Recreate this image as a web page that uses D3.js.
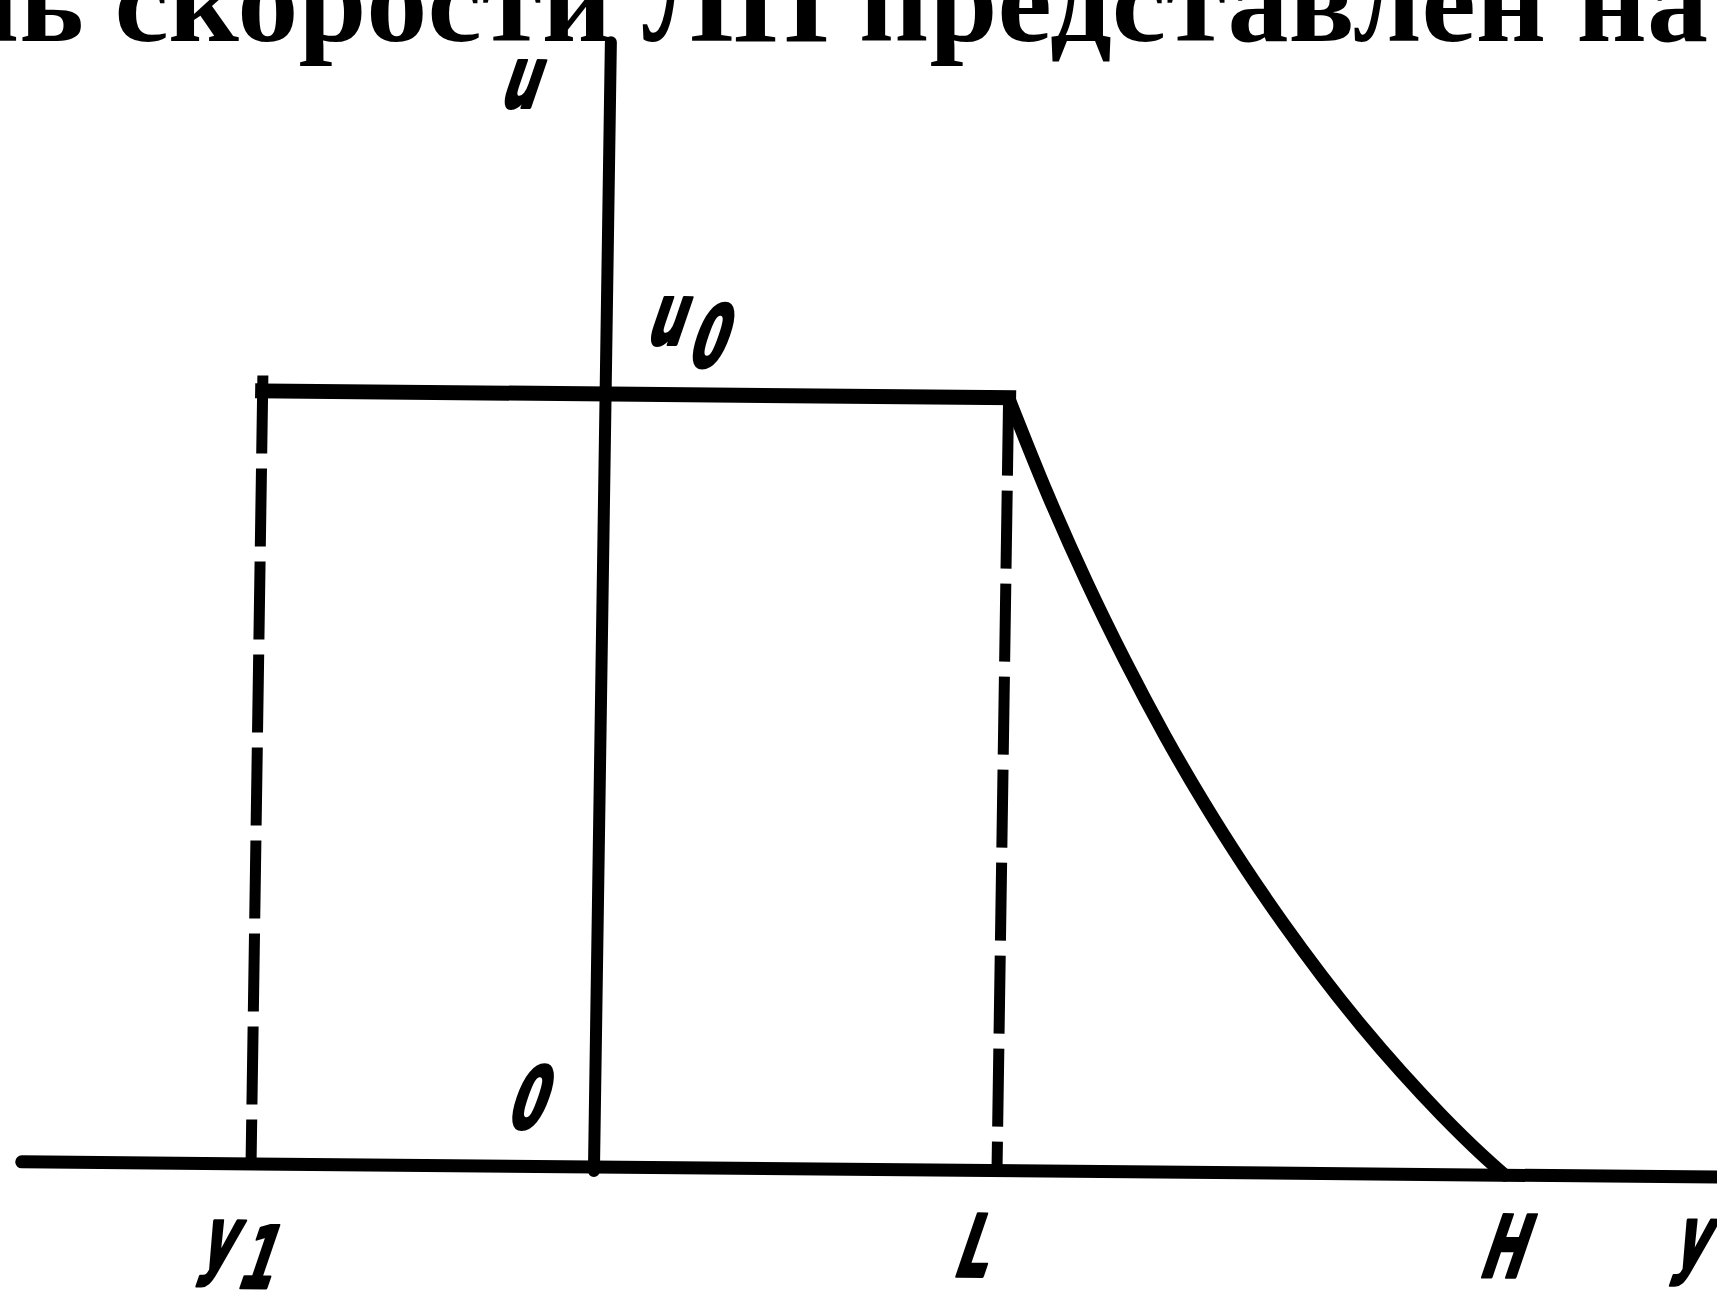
<!DOCTYPE html>
<html>
<head>
<meta charset="utf-8">
<script src="https://cdn.jsdelivr.net/npm/d3@7"></script>
<style>
  html, body { margin: 0; padding: 0; background: #fff; }
  svg { display: block; }
</style>
</head>
<body>
<script>
// Velocity profile u(y): constant u0 from y1 to L, then decaying to zero at H.
// y is measured in units of L, u in units of u0.
const axisSpanY = [-1.42, 2.79];        // horizontal (y) axis extent
const axisSpanU = [0, 1.455];           // vertical (u) axis extent
const markNames = ["y1", "L", "H"];
const markY = [-0.851, 1.0, 2.26];      // y1, L, H
const u0 = 1.0;
const decayY = [1.0, 1.1, 1.2, 1.3, 1.4, 1.5, 1.6, 1.7, 1.8, 1.9, 2.0, 2.1, 2.2, 2.26];
const decayU = [1.0, 0.876, 0.763, 0.660, 0.565, 0.478, 0.398, 0.324, 0.255, 0.191, 0.132, 0.0775, 0.0275, 0.0];

// Running text line above the figure
const headingText = "профиль скорости ЛП представлен на";
const headingTail = "ь скорости ЛП представлен на";

const W = 1717, Hpx = 1296;
const svg = d3.select("body").append("svg")
  .attr("width", W).attr("height", Hpx);
svg.append("rect").attr("width", W).attr("height", Hpx).attr("fill", "#fff");

// ---- heading text, stretched so its visible tail spans the line ----
const headLeft = 19, headRight = 1708, headBase = 41;
const heading = svg.append("text")
  .attr("font-family", "'Liberation Serif', 'DejaVu Serif', serif")
  .attr("font-weight", "bold")
  .attr("font-size", 118)
  .attr("fill", "#000")
  .text(headingTail);
const tailW = heading.node().getComputedTextLength();
const sx = (headRight - headLeft) / tailW;
heading.text(headingText)
  .attr("text-anchor", "end")
  .attr("transform", `translate(${headRight},${headBase}) scale(${sx},1)`);

// ---- plot frame (slightly skewed, as drawn on the page) ----
const g = svg.append("g")
  .attr("transform", "matrix(1,0.009,-0.015,1,594,1167)");

const x = d3.scaleLinear().domain([0, 1]).range([0, 403]);
const u = d3.scaleLinear().domain([0, 1]).range([0, -773]);

const ink = "#000";

// axes
g.append("line")
  .attr("x1", x(axisSpanY[0])).attr("x2", x(axisSpanY[1]))
  .attr("y1", u(0)).attr("y2", u(0))
  .attr("stroke", ink).attr("stroke-width", 13).attr("stroke-linecap", "round");
g.append("line")
  .attr("x1", x(0)).attr("x2", x(0))
  .attr("y1", u(axisSpanU[0]) + 4).attr("y2", u(axisSpanU[1]))
  .attr("stroke", ink).attr("stroke-width", 12).attr("stroke-linecap", "round");

// dashed verticals at y1 and L
const dashes = [
  { y: markY[0], top: u0 + 0.02 },
  { y: markY[1], top: u0 }
];
g.selectAll("line.dash").data(dashes).join("line")
  .attr("class", "dash")
  .attr("x1", d => x(d.y)).attr("x2", d => x(d.y))
  .attr("y1", d => u(d.top)).attr("y2", u(0))
  .attr("stroke", ink).attr("stroke-width", 11)
  .attr("stroke-dasharray", "78 15");

// plateau u = u0 between y1 and L
g.append("line")
  .attr("x1", x(markY[0])).attr("x2", x(markY[1]))
  .attr("y1", u(u0)).attr("y2", u(u0))
  .attr("stroke", ink).attr("stroke-width", 15).attr("stroke-linecap", "square");

// decaying part from L to H
const decay = decayY.map((y, i) => ({ y, u: decayU[i] }));
g.append("path")
  .datum(decay)
  .attr("fill", "none")
  .attr("stroke", ink).attr("stroke-width", 13)
  .attr("stroke-linejoin", "round").attr("stroke-linecap", "round")
  .attr("d", d3.line().x(d => x(d.y)).y(d => u(d.u)).curve(d3.curveMonotoneX));

// ---- labels (slanted drafting lettering) ----
function glyph(parent, tx, ty, str) {
  parent.append("g")
    .attr("transform", `translate(${tx},${ty}) skewX(-18) scale(0.6,1)`)
    .append("text")
    .attr("font-family", "'DejaVu Sans', sans-serif")
    .attr("font-weight", "bold")
    .attr("font-size", 86)
    .attr("fill", ink)
    .attr("stroke", ink).attr("stroke-width", 3).attr("stroke-linejoin", "round")
    .text(str);
}
function label(px, py, main, sub, subDx, subDy) {
  glyph(g, px, py, main);
  if (sub) glyph(g, px + subDx, py + subDy, sub);
}

const baseLab = 104;
label(x(markY[0]) - 52, baseLab, "y", "1", 37, 20);
label(x(markY[1]) - 44, baseLab + 2, "L");
label(x(markY[2]) - 26, baseLab - 2, "H");
label(x(axisSpanY[1]) - 46, baseLab - 14, "y");
label(x(0) - 90, u(0) - 38, "0");
label(x(0) - 112, u(axisSpanU[1]) + 66, "u");
label(x(0) + 38, u(u0) - 50, "u", "0", 41, 22);
</script>
</body>
</html>
